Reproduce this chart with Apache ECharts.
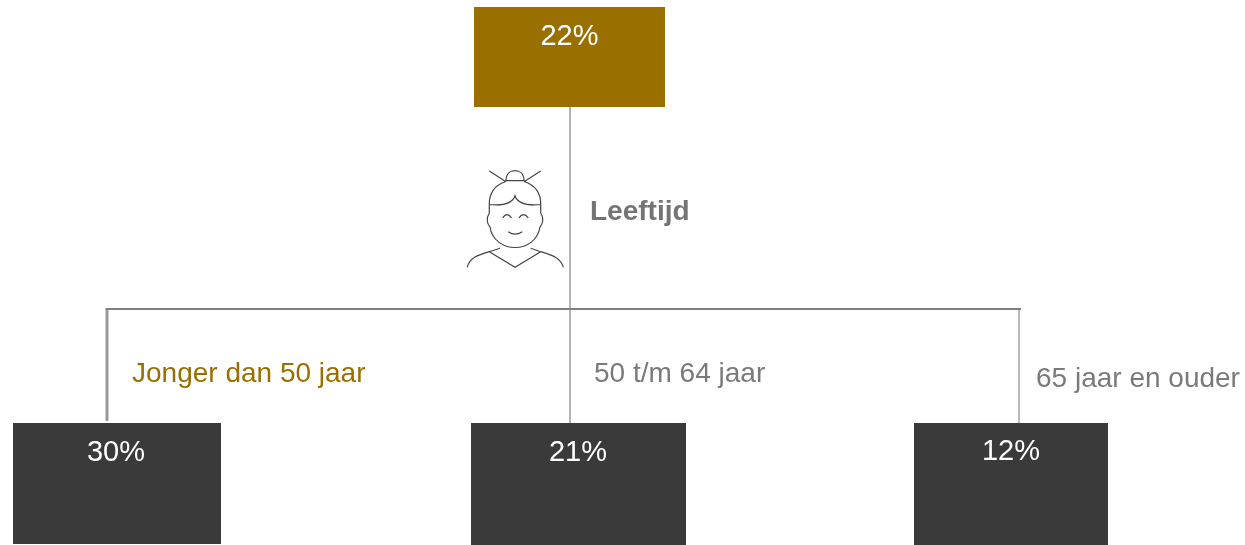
<!DOCTYPE html>
<html>
<head>
<meta charset="utf-8">
<style>
  html, body { margin: 0; padding: 0; background: #fff; }
  #chart { width: 1245px; height: 545px; }
</style>
<script src="https://cdn.jsdelivr.net/npm/echarts@6/dist/echarts.min.js"></script>
</head>
<body>
<div id="chart"></div>
<script>
const percentages = ['22%', '30%', '21%', '12%'];
const groupLabels = ['Jonger dan 50 jaar', '50 t/m 64 jaar', '65 jaar en ouder'];
const splitLabel = 'Leeftijd';

const GOLD = '#997000';
const DARK = '#3a3a3a';
const GREY = '#7f7f7f';
const FONT = '"Liberation Sans", Arial, sans-serif';

// diagram layout, in page pixels: [x0, y0, x1, y1]
const boxLayout = [
  [474, 7, 665, 107],
  [13, 423, 221, 544],
  [471, 423, 686, 545],
  [914, 423, 1108, 545],
];
const boxColors = [GOLD, DARK, DARK, DARK];
const boxLabelPos = [[569.5, 37], [116, 453], [578, 453], [1011, 452]];

const lineLayout = [
  { from: [570, 107], to: [570, 423], width: 1.5, color: '#9a9a9a' },
  { from: [107, 421], to: [107, 308], width: 3, color: '#9a9a9a' },
  { from: [1019, 309], to: [1019, 423], width: 1.2, color: '#8c8c8c' },
  { from: [106, 309], to: [1021, 309], width: 2.2, color: GREY },
];

const textLayout = [
  { text: groupLabels[0], pos: [132, 374], color: GOLD, weight: 'normal' },
  { text: groupLabels[1], pos: [594, 374], color: '#7a7a7a', weight: 'normal' },
  { text: groupLabels[2], pos: [1036, 379], color: '#7a7a7a', weight: 'normal' },
  { text: splitLabel, pos: [590, 212], color: '#747474', weight: 'bold' },
];

const iconBox = [467.3, 170.7, 563.3, 267.3];
const personIcon = [
  'M506,180.7 C506,174 510,170.7 515,170.7 C520,170.7 524,174 524,180.7 Z',
  'M489.3,171 L506,181.7 M540.7,171 L524,181.7',
  'M489.3,205 C489,192 495,185 506,181.5 M540.7,205 C541,192 535,185 524,181.5',
  'M489.3,204.5 C500,205.5 512,205 515,195.7 C518,205 530,205.5 540.7,204.5',
  'M489.3,205 L489.3,213 C486,218 487,224 490,227 C492,240 503,247.5 515,247.5',
  'C527,247.5 538,240 540,227 C543,224 544,218 540.7,213 L540.7,205',
  'M502.7,217.8 Q507,211.5 511.5,217.8 M519,217.8 Q523.5,211.5 528.3,217.8',
  'M508.3,231.7 Q515,236.5 522.3,231.7',
  'M467.3,267.3 C469,258 478,255 489.3,251.7 L500,248.3',
  'M489.3,251.7 L515,267.3 L540.7,251.7',
  'M530.7,248.3 L540.7,251.7 C552,255 561,258 563.3,267.3',
].join(' ');

const chart = echarts.init(document.getElementById('chart'));

chart.setOption({
  animation: false,
  backgroundColor: '#fff',
  grid: { left: 0, right: 0, top: 0, bottom: 0 },
  xAxis: { type: 'value', min: 0, max: 1245, show: false },
  yAxis: { type: 'value', min: 0, max: 545, inverse: true, show: false },
  series: [
    {
      name: 'connectors',
      type: 'custom',
      silent: true,
      z: 1,
      data: lineLayout.map((l, i) => [i]),
      renderItem: (params, api) => {
        const l = lineLayout[params.dataIndex];
        const a = api.coord(l.from);
        const b = api.coord(l.to);
        return {
          type: 'line',
          shape: { x1: a[0], y1: a[1], x2: b[0], y2: b[1] },
          style: { stroke: l.color, lineWidth: l.width },
        };
      },
    },
    {
      name: 'boxes',
      type: 'custom',
      silent: true,
      z: 2,
      data: percentages.map((p, i) => [i]),
      renderItem: (params, api) => {
        const i = params.dataIndex;
        const b = boxLayout[i];
        const a = api.coord([b[0], b[1]]);
        const c = api.coord([b[2], b[3]]);
        const t = api.coord(boxLabelPos[i]);
        return {
          type: 'group',
          children: [
            {
              type: 'rect',
              shape: { x: a[0], y: a[1], width: c[0] - a[0], height: c[1] - a[1] },
              style: { fill: boxColors[i] },
            },
            {
              type: 'text',
              x: t[0],
              y: t[1],
              style: {
                text: percentages[i],
                fill: '#fff',
                font: '29px ' + FONT,
                textAlign: 'center',
                textVerticalAlign: 'middle',
              },
            },
          ],
        };
      },
    },
    {
      name: 'labels',
      type: 'custom',
      silent: true,
      z: 3,
      data: textLayout.map((t, i) => [i]),
      renderItem: (params, api) => {
        const t = textLayout[params.dataIndex];
        const p = api.coord(t.pos);
        return {
          type: 'text',
          x: p[0],
          y: p[1],
          style: {
            text: t.text,
            fill: t.color,
            font: t.weight + ' 28px ' + FONT,
            textAlign: 'left',
            textVerticalAlign: 'middle',
          },
        };
      },
    },
    {
      name: 'icon',
      type: 'custom',
      silent: true,
      z: 3,
      data: [[0]],
      renderItem: (params, api) => {
        const a = api.coord([iconBox[0], iconBox[1]]);
        const c = api.coord([iconBox[2], iconBox[3]]);
        return {
          type: 'path',
          shape: {
            pathData: personIcon,
            x: a[0],
            y: a[1],
            width: c[0] - a[0],
            height: c[1] - a[1],
            layout: 'cover',
          },
          style: { fill: 'none', stroke: '#454545', lineWidth: 1.2 },
        };
      },
    },
  ],
});
</script>
</body>
</html>
